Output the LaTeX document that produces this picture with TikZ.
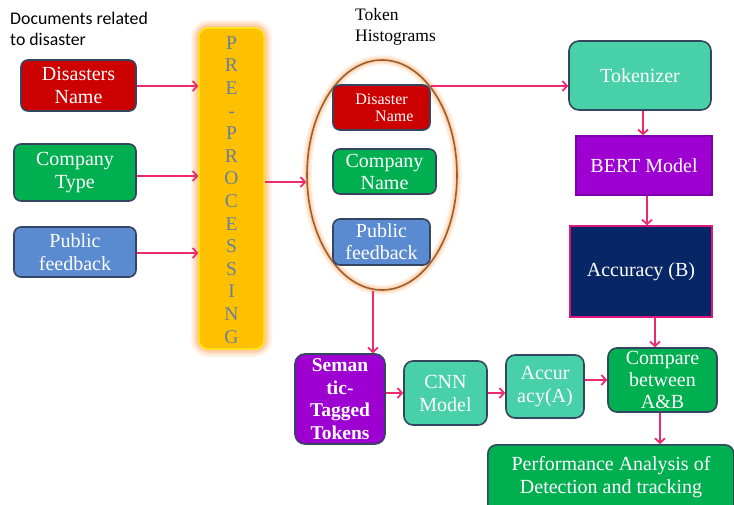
\documentclass[tikz,border=0pt]{standalone}
\usepackage{fontspec}
\setmainfont{Liberation Serif}
\newfontfamily\lblfont{Carlito}
\usetikzlibrary{arrows.meta,shapes.geometric}
\definecolor{redbox}{HTML}{CC0000}
\definecolor{greenbox}{HTML}{00B050}
\definecolor{bluebox}{HTML}{5A8AD0}
\definecolor{tealbox}{HTML}{48D0A8}
\definecolor{purplebox}{HTML}{9E00D2}
\definecolor{navybox}{HTML}{062666}
\definecolor{bordc}{HTML}{34455F}
\definecolor{arrc}{HTML}{EE2A6E}
\definecolor{prefill}{HTML}{FFC000}
\definecolor{pretext}{HTML}{6A8099}
\definecolor{glowc}{HTML}{FFB070}
\definecolor{ellc}{HTML}{9C5E2C}
\tikzset{
  box/.style={draw=bordc, line width=1.6pt, rounded corners=7pt, text=white, align=center,
    inner sep=0pt, font=\fontsize{20}{23}\selectfont},
  sqbox/.style={box, rounded corners=0pt},
  arr/.style={draw=arrc, line width=1.8pt, -{Straight Barb[length=4.5pt,width=10pt]}},
}
\begin{document}
\begin{tikzpicture}[x=1pt,y=-1pt]
\useasboundingbox (0,0) rectangle (734,504);
\fill[white] (0,0) rectangle (734,504);
% label
\node[font=\lblfont\fontsize{17.8}{21}\selectfont, align=left, anchor=north west, inner sep=0pt] (doclbl) at (10,12) {Documents related\\ to disaster};
\node[font=\fontsize{17.5}{21}\selectfont, align=left, anchor=north west, inner sep=0pt] (toklbl) at (355,8) {Token\\Histograms};
% pre-processing glow
\foreach \w/\o in {16/0.15,12/0.2,8/0.3,4/0.4} {
  \draw[glowc, opacity=\o, line width=\w pt, rounded corners=10pt] (199,28) rectangle (264,349);
}
\node[draw=yellow, line width=1.2pt, fill=prefill, rounded corners=9pt, minimum width=65pt, minimum height=321pt, inner sep=0pt] (pre) at (231.5,188.5) {};
\node[text=pretext, font=\fontsize{19.5}{22.6}\selectfont, align=center, inner sep=0pt] (pretxt) at (231.5,190) {P\\R\\E\\-\\P\\R\\O\\C\\E\\S\\S\\I\\N\\G};
% left boxes
\node[box, fill=redbox, minimum width=115pt, minimum height=51pt] (dn) at (78.5,85.5) {Disasters\\Name};
\node[box, fill=greenbox, minimum width=122pt, minimum height=57pt] (ct) at (75,172.5) {Company\\Type};
\node[box, fill=bluebox, minimum width=122pt, minimum height=50pt] (pf) at (75,252) {Public\\feedback};
% ellipse glow
\foreach \w/\o in {10/0.15,7/0.2,4/0.3} {
  \draw[glowc, opacity=\o, line width=\w pt] (382,175) ellipse [x radius=75, y radius=115];
}
\node[ellipse, draw=ellc, line width=1.6pt, minimum width=150pt, minimum height=230pt, inner sep=0pt] (ell) at (382,175) {};
% token histogram boxes
\node[box, fill=redbox, minimum width=97pt, minimum height=45pt, font=\fontsize{16}{17}\selectfont] (tdn) at (381.5,107.5) {Disaster\\\hspace*{1.6em}Name};
\node[box, fill=greenbox, minimum width=103pt, minimum height=45pt, font=\fontsize{20}{22}\selectfont] (tcn) at (384.5,171.5) {Company\\Name};
\node[box, fill=bluebox, minimum width=97pt, minimum height=46pt, font=\fontsize{20}{22}\selectfont] (tpf) at (381.5,242) {Public\\feedback};
% right column
\node[box, fill=tealbox, rounded corners=10pt, minimum width=142pt, minimum height=69pt, font=\fontsize{20}{23}\selectfont] (tok) at (640,75.5) {Tokenizer};
\node[sqbox, draw=purplebox!80!black, fill=purplebox, minimum width=136pt, minimum height=59pt] (bert) at (644,165.5) {BERT Model};
\node[sqbox, draw=magenta!70!purple, line width=1.4pt, fill=navybox, minimum width=142pt, minimum height=91pt] (accb) at (641,271.5) {Accuracy (B)};
% bottom row
\node[box, fill=purplebox, rounded corners=10pt, minimum width=90pt, minimum height=90pt, font=\bfseries\fontsize{19.5}{22.5}\selectfont] (sem) at (340,399) {Seman\\tic-\\Tagged\\Tokens};
\node[box, fill=tealbox, rounded corners=9pt, minimum width=83pt, minimum height=64pt] (cnn) at (445.5,393) {CNN\\Model};
\node[box, fill=tealbox, rounded corners=9pt, minimum width=78pt, minimum height=63pt] (acca) at (545,386.5) {Accur\\acy(A)};
\node[box, fill=greenbox, rounded corners=9pt, minimum width=109pt, minimum height=64pt, font=\fontsize{20}{22}\selectfont] (cmp) at (662.5,380) {Compare\\between\\A\&B};
\node[box, fill=greenbox, rounded corners=9pt, minimum width=246pt, minimum height=70pt, anchor=north west] (perf) at (487,444) {};
\node[text=white, align=center, font=\fontsize{20}{23}\selectfont, inner sep=0pt] (perftxt) at (611,477) {Performance Analysis of\\Detection and tracking};
% arrows
\draw[arr] (dn.east |- 0,86) -- (pre.west |- 0,86);
\draw[arr] (ct.east |- 0,176) -- (pre.west |- 0,176);
\draw[arr] (pf.east |- 0,253) -- (pre.west |- 0,253);
\draw[arr] (pre.east |- 0,182) -- (ell.west |- 0,182);
\draw[arr] (tdn.north east |- 0,86) -- (tok.west |- 0,86);
\draw[arr] (tok.south -| 643,0) -- (bert.north -| 643,0);
\draw[arr] (bert.south -| 647,0) -- (accb.north -| 647,0);
\draw[arr] (accb.south -| 655,0) -- (cmp.north -| 655,0);
\draw[arr] (ell.south -| 373,0) -- (sem.north -| 373,0);
\draw[arr] (sem.east |- 0,393) -- (cnn.west |- 0,393);
\draw[arr] (cnn.east |- 0,393) -- (acca.west |- 0,393);
\draw[arr] (acca.east |- 0,380) -- (cmp.west |- 0,380);
\draw[arr] (cmp.south -| 660,0) -- (perf.north -| 660,0);
\end{tikzpicture}
\end{document}
